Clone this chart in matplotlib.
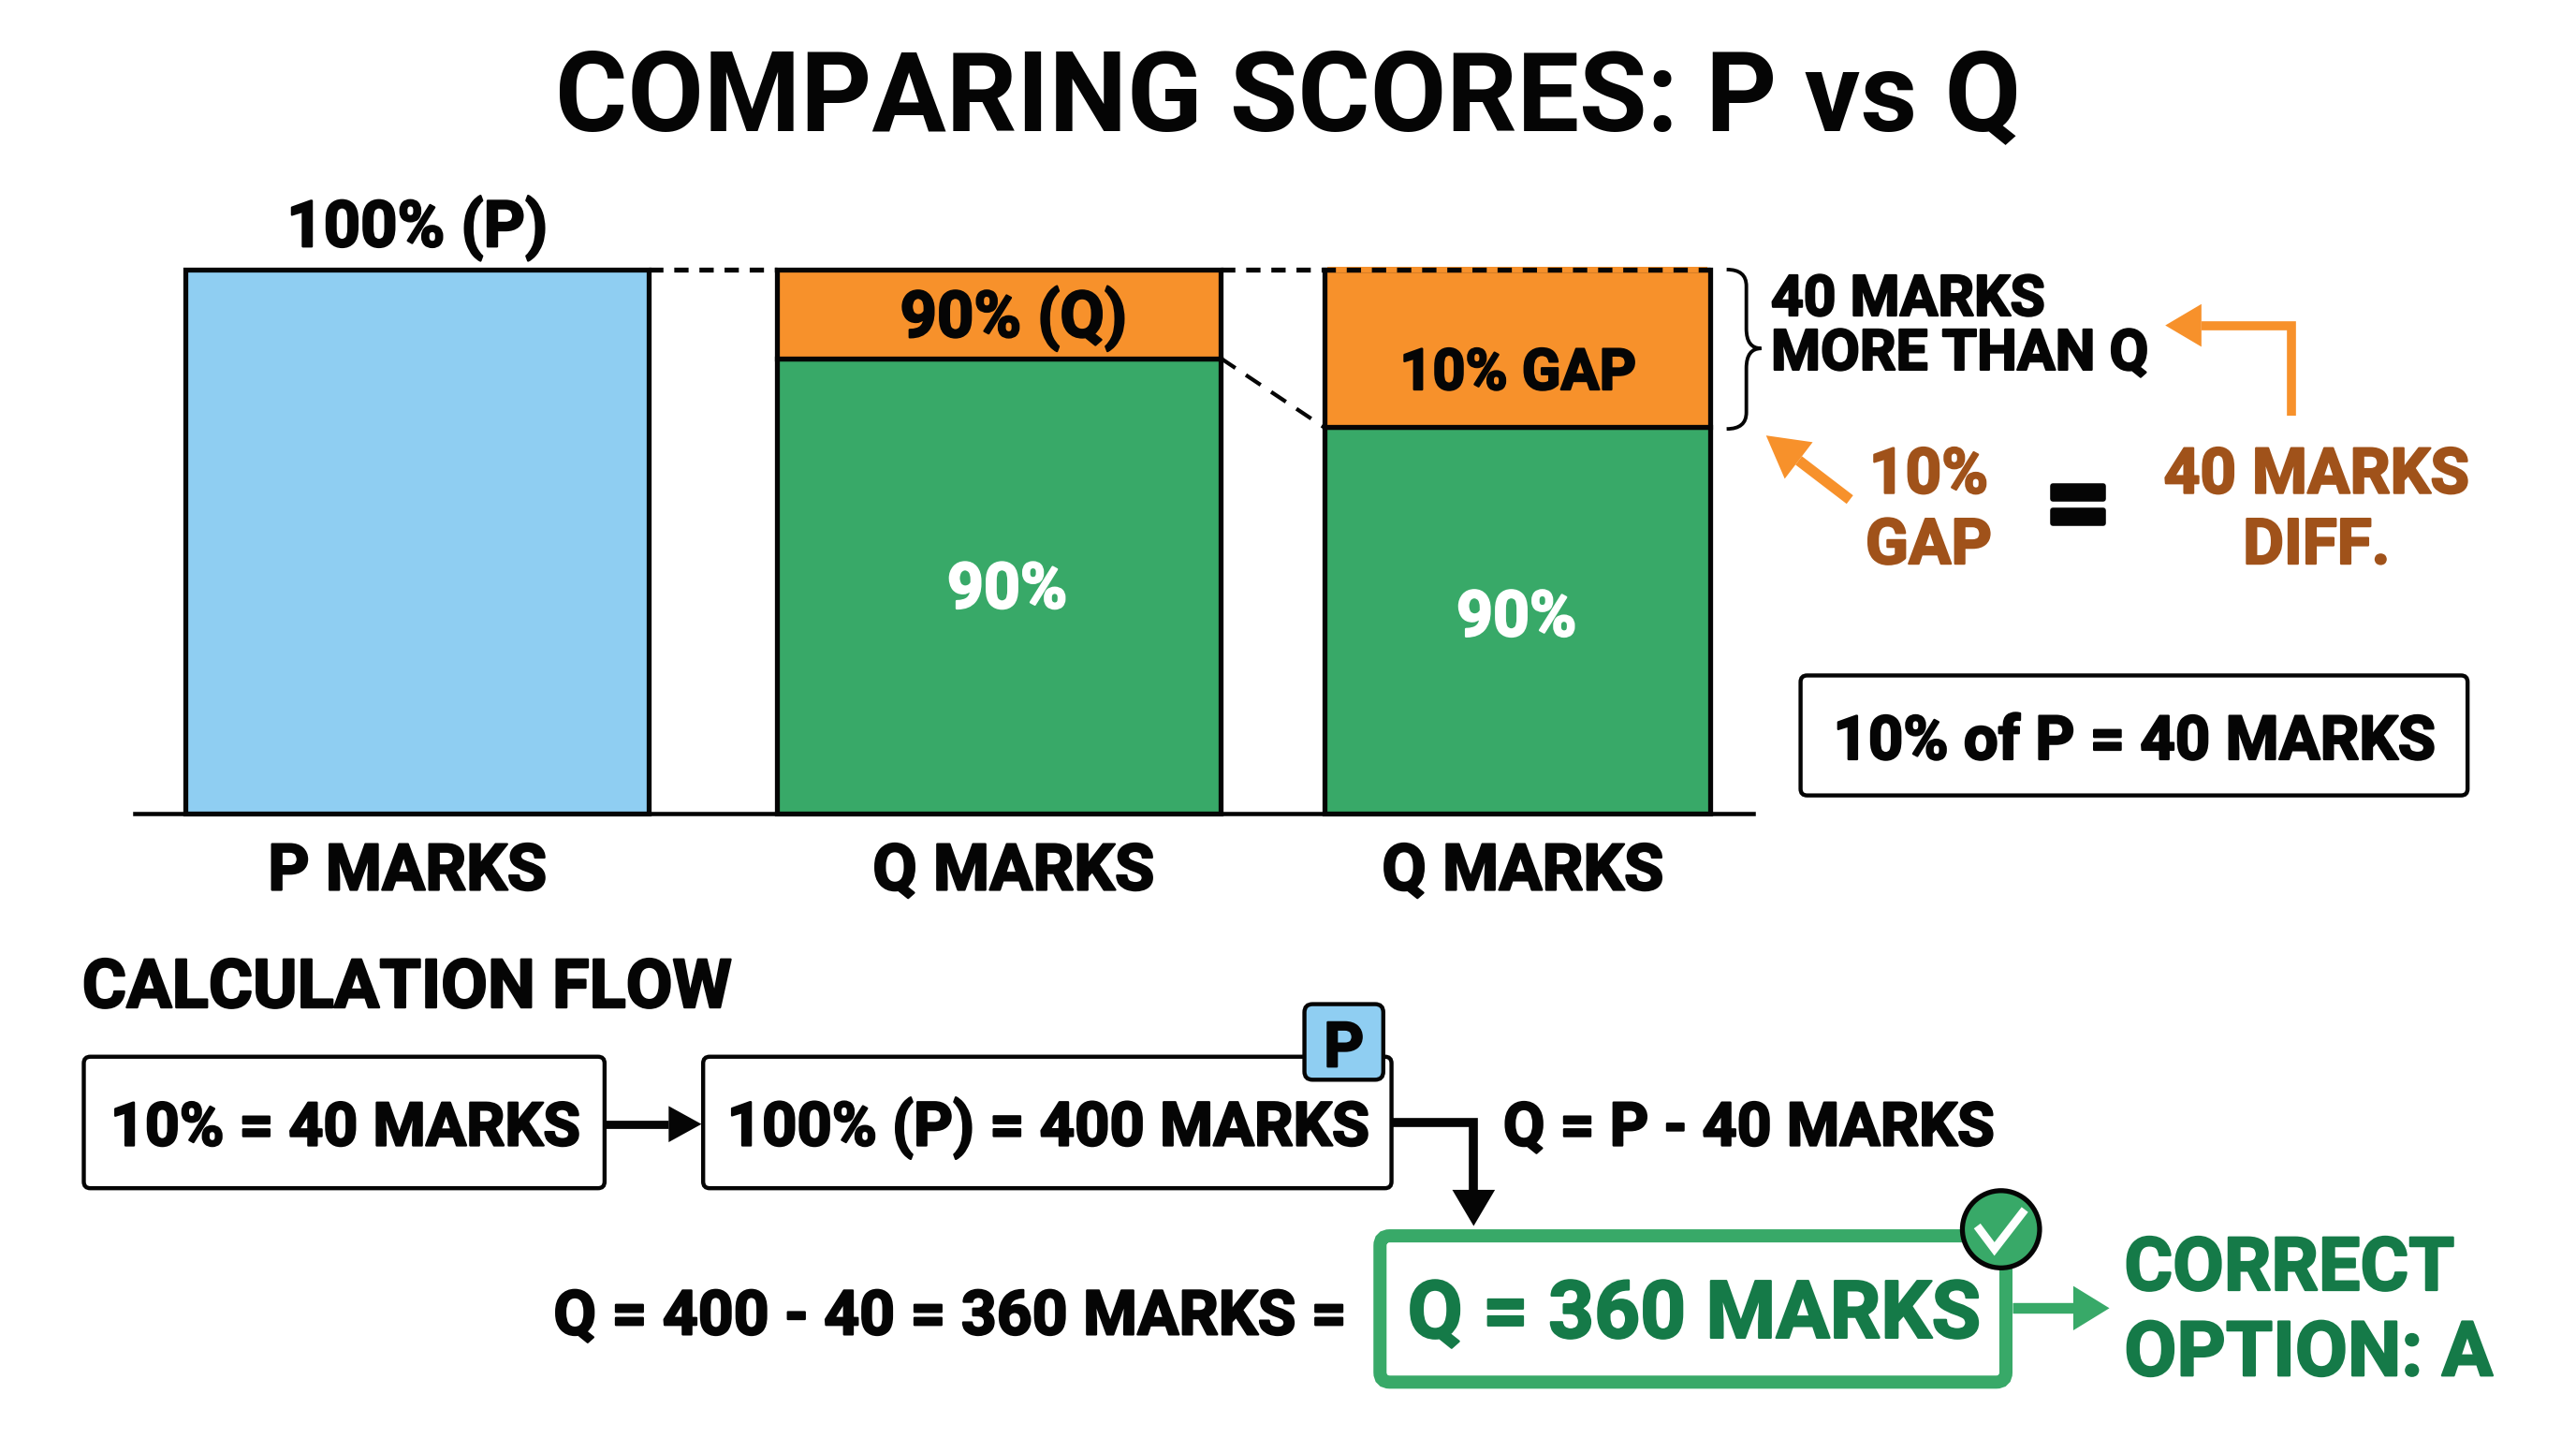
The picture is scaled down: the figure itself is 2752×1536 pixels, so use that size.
#!/usr/bin/env python3
"""Comparing scores P vs Q: stacked bars plus a small calculation flow."""

import matplotlib
matplotlib.use("Agg")
import matplotlib.pyplot as plt
import matplotlib.patheffects as pe
from matplotlib.patches import FancyBboxPatch, Circle, PathPatch
from matplotlib.path import Path

plt.rcParams["font.family"] = ["Roboto", "DejaVu Sans"]
plt.rcParams["font.weight"] = "bold"

# Data
BAR_LABELS = ["P MARKS", "Q MARKS", "Q MARKS"]
GREEN_PART = [0, 83.7, 71.0]
ORANGE_PART = [0, 16.3, 29.0]
BLUE_PART = [100, 0, 0]
IN_BAR_TEXT = ["90% (Q)", "10% GAP"]

# Layout: overlay coordinates are the 1568 x 875 preview grid
W, H = 1568, 875
U = 2752 / W * 0.72  # one grid unit in points
BAR_LEFT = [113, 473, 806]
BAR_WIDTH = [282, 270, 235]
TICK_POS = [248, 617, 927]

BLUE = "#8FCEF2"
GREEN = "#38A968"
ORANGE = "#F7912B"
BROWN = "#A0521A"
DKGREEN = "#157A48"
BLACK = "#050505"

fig = plt.figure(figsize=(27.52, 15.36), dpi=100, facecolor="white")

# Bars
ax = fig.add_axes([82 / W, 1 - 495 / H, (1067 - 82) / W, (495 - 164) / H])
ax.set_xlim(82, 1067)
ax.set_ylim(0, 100)
centers = [l + w / 2 for l, w in zip(BAR_LEFT, BAR_WIDTH)]
ax.bar(centers[0], BLUE_PART[0], BAR_WIDTH[0], color=BLUE, edgecolor=BLACK, linewidth=3 * U, clip_on=False, zorder=2)
ax.bar(centers[1:], GREEN_PART[1:], BAR_WIDTH[1:], color=GREEN, edgecolor=BLACK, linewidth=3 * U, clip_on=False, zorder=2)
ax.bar(centers[1:], ORANGE_PART[1:], BAR_WIDTH[1:], bottom=GREEN_PART[1:], color=ORANGE, edgecolor=BLACK,
       linewidth=3 * U, clip_on=False, zorder=2)

# third bar has a dashed top instead of a solid one
ax.hlines(100, BAR_LEFT[2] + 2, BAR_LEFT[2] + BAR_WIDTH[2] - 2, color=ORANGE, linewidth=3.4 * U, clip_on=False, zorder=3)
dash = dict(color=BLACK, linewidth=3 * U, linestyles=(0, (2.9, 2.2)), clip_on=False, zorder=4)
ax.hlines(100, BAR_LEFT[0] + BAR_WIDTH[0], BAR_LEFT[1], **dash)
ax.hlines(100, BAR_LEFT[1] + BAR_WIDTH[1], BAR_LEFT[2] + BAR_WIDTH[2], **dash)
ax.plot([BAR_LEFT[1] + BAR_WIDTH[1], BAR_LEFT[2]], [GREEN_PART[1], GREEN_PART[2]], color=BLACK,
        linewidth=2.4 * U, linestyle=(0, (4.5, 3.2)), zorder=1)

for side in ["top", "left", "right"]:
    ax.spines[side].set_visible(False)
ax.spines["bottom"].set_linewidth(2.6 * U)
ax.spines["bottom"].set_color(BLACK)
ax.patch.set_alpha(0)
ax.set_yticks([])
ax.set_xticks(TICK_POS)
ax.set_xticklabels(BAR_LABELS, fontsize=49.5, fontweight="bold", color=BLACK)
ax.tick_params(axis="x", length=0, pad=22)
for lab in ax.get_xticklabels():
    lab.set_path_effects([pe.withStroke(linewidth=1.6, foreground=BLACK)])

# Everything else sits on a full figure overlay
ov = fig.add_axes([0, 0, 1, 1], zorder=5)
ov.set_xlim(0, W)
ov.set_ylim(H, 0)
ov.axis("off")


def txt(x, y, s, size, color=BLACK, ha="center", stroke=1.6, **kw):
    t = ov.text(x, y, s, fontsize=size, color=color, ha=ha, va="baseline", fontweight="bold", **kw)
    t.set_path_effects([pe.withStroke(linewidth=stroke, foreground=color)])


def box(x0, y0, x1, y1, lw=2.5, ec=BLACK, fc="white", r=4, z=2):
    ov.add_patch(FancyBboxPatch((x0, y0), x1 - x0, y1 - y0, boxstyle=f"round,pad=0,rounding_size={r}",
                                linewidth=lw * U, edgecolor=ec, facecolor=fc, zorder=z))


def arrow(pts, color, lw, head_w, head_l, z=3):
    # shaft stops at the head base, the head is a filled triangle
    (x0, y0), (x1, y1) = pts[-2], pts[-1]
    d = ((x1 - x0) ** 2 + (y1 - y0) ** 2) ** 0.5
    ux, uy = (x1 - x0) / d, (y1 - y0) / d
    bx, by = x1 - ux * head_l, y1 - uy * head_l
    xs = [p[0] for p in pts[:-1]] + [bx]
    ys = [p[1] for p in pts[:-1]] + [by]
    ov.plot(xs, ys, color=color, linewidth=lw * U, solid_joinstyle="miter", solid_capstyle="butt", zorder=z)
    ov.fill([x1, bx - uy * head_w / 2, bx + uy * head_w / 2], [y1, by + ux * head_w / 2, by - ux * head_w / 2],
            color=color, linewidth=0, zorder=z)


# Title and bar labels
ov.text(784, 79, "COMPARING SCORES: P vs Q", fontsize=85, fontweight="bold",
        color=BLACK, ha="center", va="baseline")
txt(254, 150, "100% (P)", 49.5)
txt(617, 205, IN_BAR_TEXT[0], 49.5)
txt(924, 237, IN_BAR_TEXT[1], 44)
txt(613, 370, "90%", 49, "white")
txt(923, 387, "90%", 49, "white")

# Brace
brace = Path(
    [(1051, 164), (1063, 164), (1063, 174), (1063, 200), (1063, 212), (1072, 212),
     (1063, 212), (1063, 224), (1063, 251), (1063, 261), (1051, 261)],
    [Path.MOVETO, Path.CURVE3, Path.CURVE3, Path.LINETO, Path.CURVE3, Path.CURVE3,
     Path.CURVE3, Path.CURVE3, Path.LINETO, Path.CURVE3, Path.CURVE3],
)
ov.add_patch(PathPatch(brace, fill=False, edgecolor=BLACK, linewidth=2.2 * U, zorder=3))

# Right hand notes
txt(1078, 192, "40 MARKS", 43.6, ha="left")
txt(1078, 225, "MORE THAN Q", 43.6, ha="left")
txt(1174, 300, "10%", 48.6, BROWN)
txt(1174, 343, "GAP", 48.6, BROWN)
txt(1410, 300, "40 MARKS", 48.6, BROWN)
txt(1410, 343, "DIFF.", 48.6, BROWN)
txt(1265, 329, "=", 88, stroke=4)
arrow([(1395, 253), (1395, 198), (1318, 198)], ORANGE, 5.5, 26, 22)
arrow([(1126, 304), (1075, 265)], ORANGE, 6.5, 28, 25)

box(1096, 411, 1502, 484)
txt(1299, 462, "10% of P = 40 MARKS", 47, zorder=4)

# Calculation flow
txt(50, 613, "CALCULATION FLOW", 52, ha="left")
box(51, 643, 368, 723)
txt(210, 697, "10% = 40 MARKS", 46.4, zorder=4)
arrow([(368, 684), (427, 684)], BLACK, 5, 22, 20)
box(428, 643, 847, 723)
txt(638, 697, "100% (P) = 400 MARKS", 46.9, zorder=4)
box(794, 611, 842, 657, fc=BLUE, r=5, z=4)
txt(818, 649, "P", 48, zorder=5)
arrow([(848, 683), (897, 683), (897, 746)], BLACK, 5.5, 26, 22)
txt(915, 697, "Q = P - 40 MARKS", 46.5, ha="left")

txt(820, 812, "Q = 400 - 40 = 360 MARKS =", 47.6, ha="right")
box(840, 752, 1221, 841, lw=8, ec=GREEN, r=6)
txt(1031, 814, "Q = 360 MARKS", 61.5, DKGREEN, zorder=4)
arrow([(1225, 796), (1284, 796)], GREEN, 6.5, 27, 22)
txt(1293, 785, "CORRECT", 57, DKGREEN, ha="left")
txt(1293, 837, "OPTION: A", 58.5, DKGREEN, ha="left")

# Check badge
ov.add_patch(Circle((1218, 748), 23.5, facecolor=GREEN, edgecolor=BLACK, linewidth=3 * U, zorder=6))
ov.plot([1205, 1214, 1231], [748, 760, 738], color="white", linewidth=5 * U, solid_joinstyle="miter", zorder=7)

fig.savefig("out.png", dpi=100, facecolor="white")
